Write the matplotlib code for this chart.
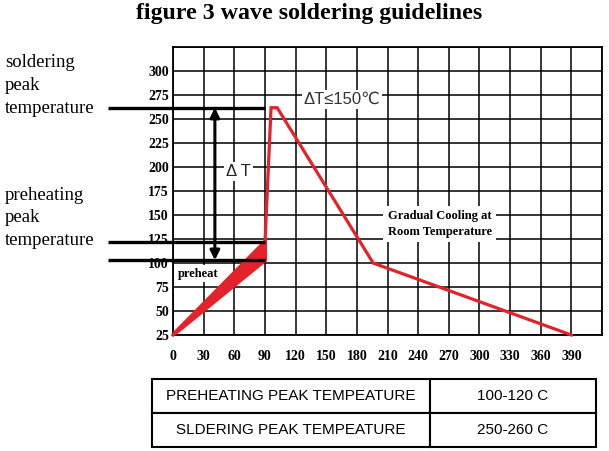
import matplotlib
matplotlib.use("Agg")
import matplotlib.pyplot as plt
from matplotlib.patches import Polygon

# ---- data ----
time_s = [0, 90, 96, 102, 196, 390]
temp_c = [25, 120, 262, 262, 100, 25]
preheat_top = 122
preheat_bottom = 103
solder_peak = 262
wedge_start = 25
x_ticks = list(range(0, 421, 30))
y_ticks = list(range(25, 326, 25))
x_labels = [str(v) for v in range(0, 391, 30)] + [""]
y_labels = [str(v) for v in range(25, 301, 25)] + [""]
table_rows = [["PREHEATING PEAK TEMPEATURE", "100-120 C"],
              ["SLDERING PEAK TEMPEATURE", "250-260 C"]]

RED = "#e3222b"
SERIF = ["Liberation Serif", "DejaVu Serif"]
SANS = ["Liberation Sans", "DejaVu Sans"]

fig = plt.figure(figsize=(6.09, 4.51), dpi=100)
ax = fig.add_axes([173/609, 1-335/451, (602-173)/609, (335-47.3)/451])
ax.set_xlim(0, 420)
ax.set_ylim(25, 325)
ax.set_xticks(x_ticks)
ax.set_yticks(y_ticks)
ax.set_xticklabels(x_labels, fontfamily=SERIF, fontweight="bold", fontsize=10)
ax.set_yticklabels(y_labels, fontfamily=SERIF, fontweight="bold", fontsize=10)
ax.tick_params(axis="both", length=0)
ax.tick_params(axis="x", pad=11)
ax.tick_params(axis="y", pad=3)
ax.grid(True, color="black", linewidth=1.1)
ax.set_axisbelow(True)
for s in ax.spines.values():
    s.set_linewidth(1.3)
    s.set_color("black")

# red profile
ax.plot(time_s, temp_c, color=RED, linewidth=2.3, zorder=4, clip_on=False,
        solid_joinstyle="miter")
wedge = Polygon([(time_s[0], wedge_start), (time_s[1], preheat_top),
                 (time_s[1], preheat_bottom)], closed=True,
                facecolor=RED, edgecolor=RED, linewidth=3, zorder=4)
ax.add_patch(wedge)

# black reference lines
x_left = -64
for yv in [solder_peak, preheat_top, preheat_bottom]:
    ax.plot([x_left, 90], [yv, yv], color="black", linewidth=2.4,
            clip_on=False, zorder=5, solid_capstyle="butt")

# double arrow
ax.annotate("", xy=(41, preheat_bottom), xytext=(41, solder_peak),
            arrowprops=dict(arrowstyle="<|-|>", color="black", lw=2.2,
                            mutation_scale=14, shrinkA=0, shrinkB=0),
            zorder=6)

box = dict(facecolor="white", edgecolor="none", pad=1.5)
ax.text(52, 195, "Δ T", fontfamily=SANS, fontsize=12, color="#222222",
        ha="left", va="center", bbox=box, zorder=6)
ax.text(128, 271, "ΔT≤150℃", fontfamily=SANS, fontsize=12, color="#333333",
        ha="left", va="center", bbox=box, zorder=6)
ax.text(5, 89, "preheat", fontfamily=SERIF, fontweight="bold", fontsize=9,
        ha="left", va="center", bbox=box, zorder=6)
ax.text(210, 141, "Gradual Cooling at\nRoom Temperature", fontfamily=SERIF,
        fontweight="bold", fontsize=9, ha="left", va="center",
        linespacing=1.45, bbox=dict(facecolor="white", edgecolor="none", pad=3),
        zorder=6)

# left labels
fig.text(5/609, 1-85.5/451, "soldering\npeak\ntemperature", fontfamily=SERIF,
         fontsize=13.5, ha="left", va="center", linespacing=1.44)
fig.text(5/609, 1-218/451, "preheating\npeak\ntemperature", fontfamily=SERIF,
         fontsize=13.5, ha="left", va="center", linespacing=1.44)

# title
fig.text(309.5/609, 1-14/451, "figure 3 wave soldering guidelines", fontfamily=SERIF,
         fontweight="bold", fontsize=17.2, ha="center", va="center")

# table
tax = fig.add_axes([152/609, 1-447/451, (596-152)/609, (447-379)/451])
tax.axis("off")
tbl = tax.table(cellText=table_rows, bbox=[0, 0, 1, 1],
                colWidths=[0.626, 0.374], cellLoc="center")
tbl.auto_set_font_size(False)
for (r, c), cell in tbl.get_celld().items():
    cell.set_linewidth(1.5)
    cell.set_edgecolor("black")
    cell.get_text().set_fontfamily(SANS)
    cell.get_text().set_fontsize(11)

fig.savefig("out.png", dpi=100)
